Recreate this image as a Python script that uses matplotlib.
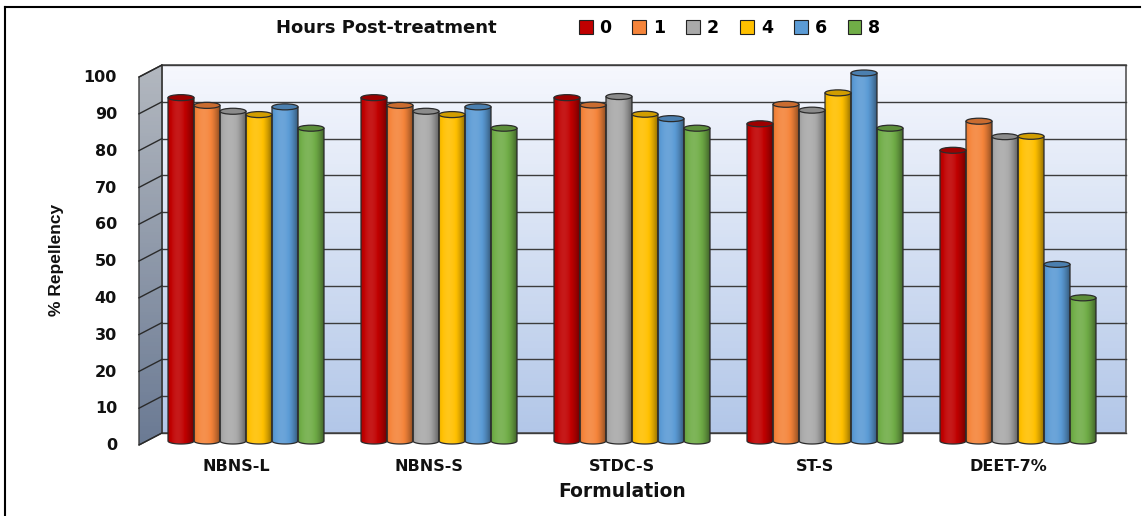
import numpy as np
import matplotlib.pyplot as plt
from matplotlib.patches import Ellipse, Polygon, Rectangle, Patch
from matplotlib.lines import Line2D

formulations = ['NBNS-L', 'NBNS-S', 'STDC-S', 'ST-S', 'DEET-7%']
hours = ['0', '1', '2', '4', '6', '8']
h0 = [93.3, 93.3, 93.3, 86.2, 79.0]
h1 = [91.2, 91.2, 91.3, 91.5, 86.9]
h2 = [89.6, 89.6, 93.6, 89.9, 82.7]
h4 = [88.7, 88.7, 88.8, 94.6, 82.8]
h6 = [90.8, 90.8, 87.6, 100.0, 48.0]
h8 = [85.0, 85.0, 85.0, 85.0, 38.9]
series = [h0, h1, h2, h4, h6, h8]
colors = ['#c00000', '#f5843a', '#a9a9a9', '#ffc000', '#5b9bd5', '#70ad47']
yticks = list(range(0, 101, 10))

W, H = 1148, 516
fig = plt.figure(figsize=(W / 100, H / 100), dpi=100)
ax = fig.add_axes([0, 0, 1, 1])
# 1 category = 193 px, 1 % = 3.68 px, bar base at y=441 px
ax.set_xlim(-246 / 193, (W - 246) / 193)
ax.set_ylim((441 - H) / 3.68, 441 / 3.68)
ax.axis('off')

bold = dict(fontweight='bold', color='#111111')


def shade(base, t_peak=0.38):
    t = np.linspace(0, 1, 80)
    s = np.clip(1 - ((t - t_peak) / (1 - t_peak)) ** 2, 0, 1)
    f = 0.58 + 0.52 * s
    rgb = np.array(plt.matplotlib.colors.to_rgb(base))
    out = np.empty((1, len(t), 3))
    for i, fi in enumerate(f):
        if fi <= 1:
            out[0, i] = rgb * fi
        else:
            out[0, i] = rgb + (1 - rgb) * (fi - 1)
    return out


# walls (front edge / back edge of the 3D box)
xf, xb, xr = (139 - 246) / 193, (162 - 246) / 193, (1126 - 246) / 193
yb0, yf0 = 8 / 3.68, -4 / 3.68

grad = np.linspace(0, 1, 100)[:, None, None]
top_c = np.array([0.965, 0.972, 0.995])
bot_c = np.array([0.70, 0.78, 0.91])
back = top_c * (1 - grad) + bot_c * grad
ax.imshow(back, extent=(xb, xr, yb0, yb0 + 100), aspect='auto', zorder=0)
ax.add_patch(Rectangle((xb, yb0), xr - xb, 100, fill=False, ec='#555555', lw=1.2, zorder=1))

side_poly = Polygon([(xf, yf0), (xb, yb0), (xb, yb0 + 100), (xf, yf0 + 100)],
                    closed=True, fill=False, ec='#3a3a3a', lw=1.0, zorder=1.5)
ax.add_patch(side_poly)
s_top = np.array([0.70, 0.72, 0.75])
s_bot = np.array([0.42, 0.48, 0.58])
side = s_top * (1 - grad) + s_bot * grad
im = ax.imshow(side, extent=(xf, xb, yf0, yb0 + 100), aspect='auto', zorder=0.5)
im.set_clip_path(side_poly)

for k in yticks:
    ax.plot([xb, xr], [yb0 + k, yb0 + k], color='#3c3c3c', lw=1.0, zorder=1)
    ax.plot([xf, xb], [yf0 + k, yb0 + k], color='#2a2a2a', lw=1.0, zorder=1.5)
    ax.text((117 - 246) / 193, k - 1.3, str(k), ha='right', va='center', fontsize=11.5, **bold)

# cylinders
x = np.arange(len(formulations))
bw = 26 / 193
cap = 6 / 3.68
for j, (vals, c) in enumerate(zip(series, colors)):
    bars = ax.bar(x + (j - 2.5) * bw, vals, bw, color=c, zorder=3)
    img = shade(c)
    for b in bars:
        x0, w, h = b.get_x(), b.get_width(), b.get_height()
        th = np.linspace(np.pi, 2 * np.pi, 30)
        arc = [(x0 + w / 2 + w / 2 * np.cos(a), cap / 2 * np.sin(a)) for a in th]
        body = Polygon([(x0, h)] + arc + [(x0 + w, h)], closed=True, fill=False,
                       ec='#2b2b2b', lw=0.9, zorder=4)
        ax.add_patch(body)
        gi = ax.imshow(img, extent=(x0, x0 + w, -cap / 2, h), aspect='auto', zorder=3.5)
        gi.set_clip_path(body)
        rgb = np.array(plt.matplotlib.colors.to_rgb(c))
        ax.add_patch(Ellipse((x0 + w / 2, h), w, cap, fc=rgb * 0.82, ec='#2b2b2b',
                             lw=0.9, zorder=5))
        b.set_visible(False)

for i, name in enumerate(formulations):
    ax.text(i - 0.05, -6.8, name, ha='center', va='center', fontsize=11.5, **bold)
ax.text(1.948, -13.8, 'Formulation', ha='center', va='center', fontsize=13.5, **bold)

fig.text(57 / W, 1 - 260 / H, '% Repellency', rotation=90, ha='center', va='center',
         fontsize=12.5, fontweight='bold', color='#111111',
         family=['Liberation Sans', 'DejaVu Sans'])

# legend
fig.text(276 / W, 1 - 28 / H, 'Hours Post-treatment', ha='left', va='center',
         fontsize=13, **bold)
handles = [Patch(facecolor=c, edgecolor='#222222', lw=0.8) for c in colors]
fig.legend(handles, hours, ncol=6, loc='center left',
           bbox_to_anchor=(570 / W, 1 - 28 / H), frameon=False,
           prop=dict(weight='bold', size=12.5), handlelength=0.8, handleheight=0.8,
           handletextpad=0.4, columnspacing=1.2, borderpad=0)

# outer frame (top and left edges visible)
fig.add_artist(Line2D([5 / W, 5 / W], [0, 1 - 7 / H], transform=fig.transFigure,
                      color='black', lw=1.5))
fig.add_artist(Line2D([5 / W, 1140 / W], [1 - 7 / H, 1 - 7 / H], transform=fig.transFigure,
                      color='black', lw=1.5))

fig.savefig('out.png', dpi=100)
